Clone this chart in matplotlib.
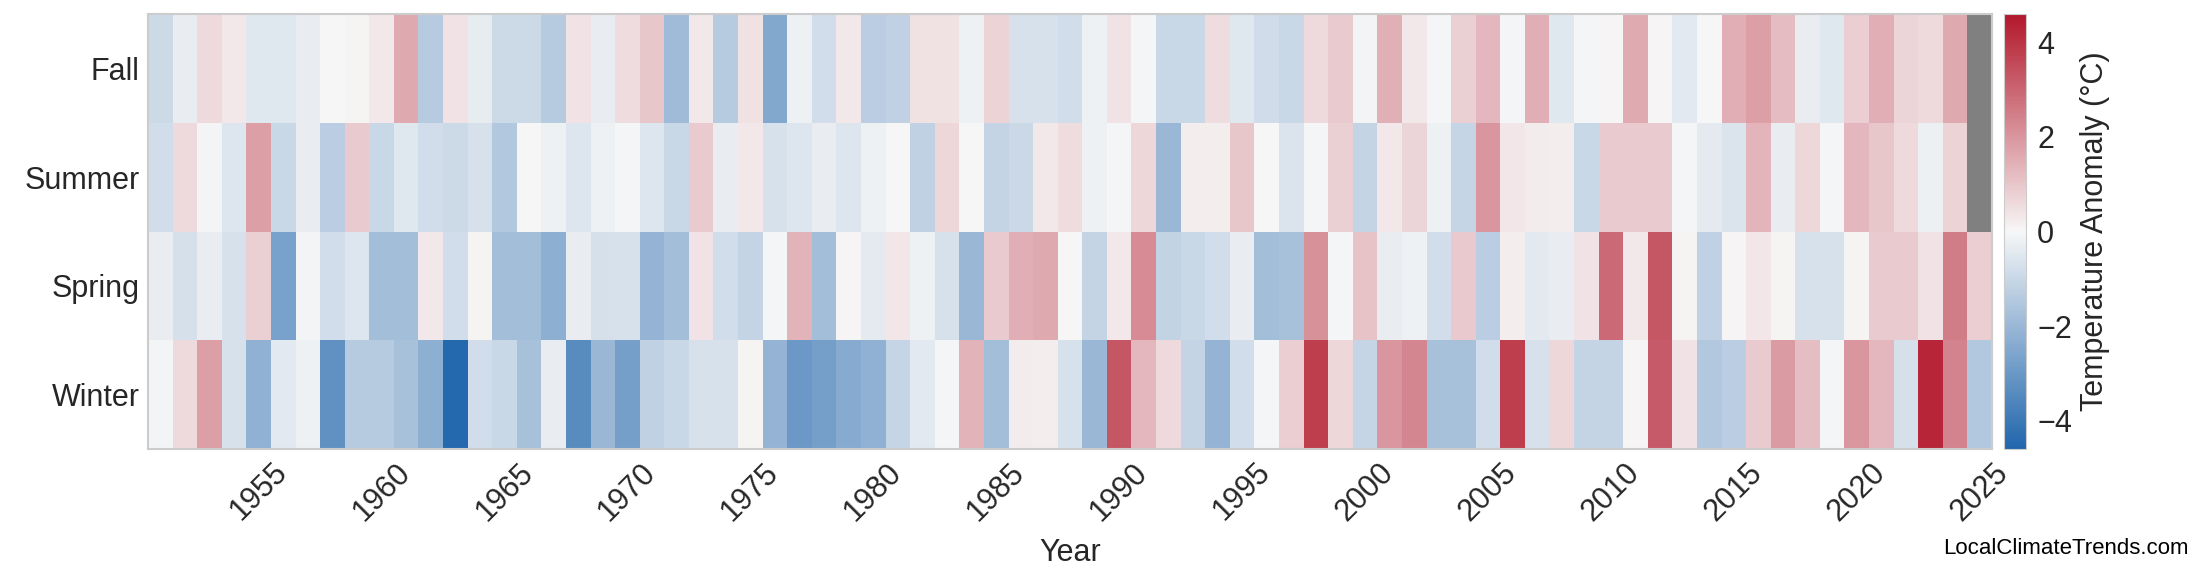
import numpy as np
import matplotlib
matplotlib.use("Agg")
import matplotlib.pyplot as plt
from matplotlib.colors import LinearSegmentedColormap

years = list(range(1951, 2026))
seasons = ["Fall", "Summer", "Spring", "Winter"]

fall = [-0.9,-0.3,0.6,0.3,-0.5,-0.5,-0.3,0,0.1,0.3,1.6,-1.4,0.4,-0.35,-0.9,-0.9,-1.4,0.4,-0.3,
        0.55,1.0,-1.9,0.3,-1.4,0.45,-2.5,-0.2,-0.8,0.3,-1.3,-1.2,0.45,0.45,-0.2,0.75,-0.7,-0.7,-0.8,
        -0.2,0.4,-0.05,-1.0,-1.0,0.55,-0.5,-0.85,-1.0,0.6,0.9,-0.1,1.45,0.3,-0.05,0.8,1.3,-0.05,
        1.5,-0.5,-0.05,0.05,1.55,0.05,-0.45,0,1.5,1.8,1.2,-0.3,-0.5,0.85,1.5,0.7,0.6,1.6,np.nan]
summer = [-0.8,0.6,-0.1,-0.55,1.8,-1.0,-0.3,-1.3,0.9,-1.0,-0.5,-0.8,-0.9,-0.7,-1.5,0,-0.2,-0.55,-0.2,
          -0.05,-0.55,-1.0,0.9,-0.3,0.3,-0.7,-0.55,-0.3,-0.55,-0.2,0,-1.2,0.65,0,-1.1,-0.95,0.3,0.55,
          -0.2,-0.05,0.65,-2.0,0.2,0.2,1.0,0,-0.6,-0.05,0.8,-1.1,0.3,0.7,-0.2,-1.05,2.0,0.35,
          0.25,0.2,-1.0,0.9,0.9,0.9,-0.05,-0.4,-0.6,1.35,-0.3,0.65,-0.05,1.3,1.0,0.6,-0.25,0.75,np.nan]
spring = [-0.3,-0.75,-0.3,-0.7,0.8,-2.7,-0.1,-0.8,-0.55,-1.8,-1.8,0.3,-0.8,0.1,-1.8,-1.8,-2.3,-0.3,-0.75,
          -0.7,-2.1,-1.8,0.4,-0.8,-1.1,-0.05,1.4,-1.8,0.05,-0.4,0.35,-0.2,-0.7,-2.0,0.9,1.5,1.6,0,
          -1.1,0.3,2.2,-1.15,-1.0,-0.8,-0.3,-1.8,-1.7,2.1,-0.05,1.05,-0.3,-0.2,-0.8,0.95,-1.3,0.2,
          -0.45,-0.3,0.4,2.9,0.3,3.3,0.1,-1.2,0.05,0.35,0.1,-0.7,-0.7,0.1,0.9,0.9,0.4,2.5,0.85]
winter = [-0.1,0.6,1.8,-0.7,-2.2,-0.45,-0.2,-3.2,-1.4,-1.4,-1.7,-2.3,-4.5,-0.8,-1.0,-1.7,-0.3,-3.4,-2.0,
          -2.8,-1.2,-1.0,-0.7,-0.7,0.1,-2.1,-3.0,-2.8,-2.4,-2.2,-1.05,-0.45,-0.05,1.4,-1.8,0.25,0.2,-0.7,
          -2.0,3.3,1.3,0.6,-1.1,-2.1,-0.8,-0.05,0.85,3.8,0.65,-1.05,2.0,2.3,-1.7,-1.7,-0.8,3.8,
          -0.7,0.65,-1.1,-1.1,0.05,3.2,0.4,-1.5,-1.3,0.9,1.9,1.15,-0.05,2.0,1.3,-0.75,4.3,2.4,-1.5]

data = np.array([fall, summer, spring, winter], dtype=float)

plt.rcParams['font.family'] = ['Arial', 'Liberation Sans', 'DejaVu Sans']
cmap = LinearSegmentedColormap.from_list("c", ["#2166ac", "#f7f7f7", "#b2182b"])
cmap.set_bad("#808080")

FS = 22
fig = plt.figure(figsize=(22, 5.85), dpi=100)
ax = fig.add_axes([148/2200, 1-449/585, (1992-148)/2200, (449-14)/585])
cax = fig.add_axes([2004/2200, 1-449/585, 22/2200, (449-14)/585])

x_edges = np.arange(len(years)+1) - 0.5
y_edges = np.arange(len(seasons)+1) - 0.5
m = ax.pcolormesh(x_edges, y_edges, np.ma.masked_invalid(data), cmap=cmap, vmin=-4.6, vmax=4.6)
ax.set_facecolor("#808080")
ax.set_xlim(-0.5, len(years)-0.5)
ax.set_ylim(len(seasons)-0.5, -0.5)
ax.set_yticks(range(len(seasons)))
ax.set_yticklabels(seasons, fontsize=FS, color="#262626")
tick_years = list(range(1955, 2026, 5))
ax.set_xticks([years.index(y) for y in tick_years])
ax.set_xticklabels([str(y) for y in tick_years], rotation=45, fontsize=FS, color="#262626")
ax.tick_params(length=0, pad=6)
ax.set_xlabel("Year", fontsize=FS, color="#262626", labelpad=8)
for s in ax.spines.values():
    s.set_color("#cccccc"); s.set_linewidth(1.5)

cb = fig.colorbar(m, cax=cax)
cb.set_ticks([-4, -2, 0, 2, 4])
cb.ax.tick_params(labelsize=FS, length=0, colors="#262626", pad=8)
cb.set_label("Temperature Anomaly (°C)", fontsize=FS, color="#262626", labelpad=6)
cb.outline.set_edgecolor("#cccccc")

fig.text(0.995, 1-548/585, "LocalClimateTrends.com", ha="right", va="center", fontsize=16)
fig.savefig("out.png", dpi=100, facecolor="white")
